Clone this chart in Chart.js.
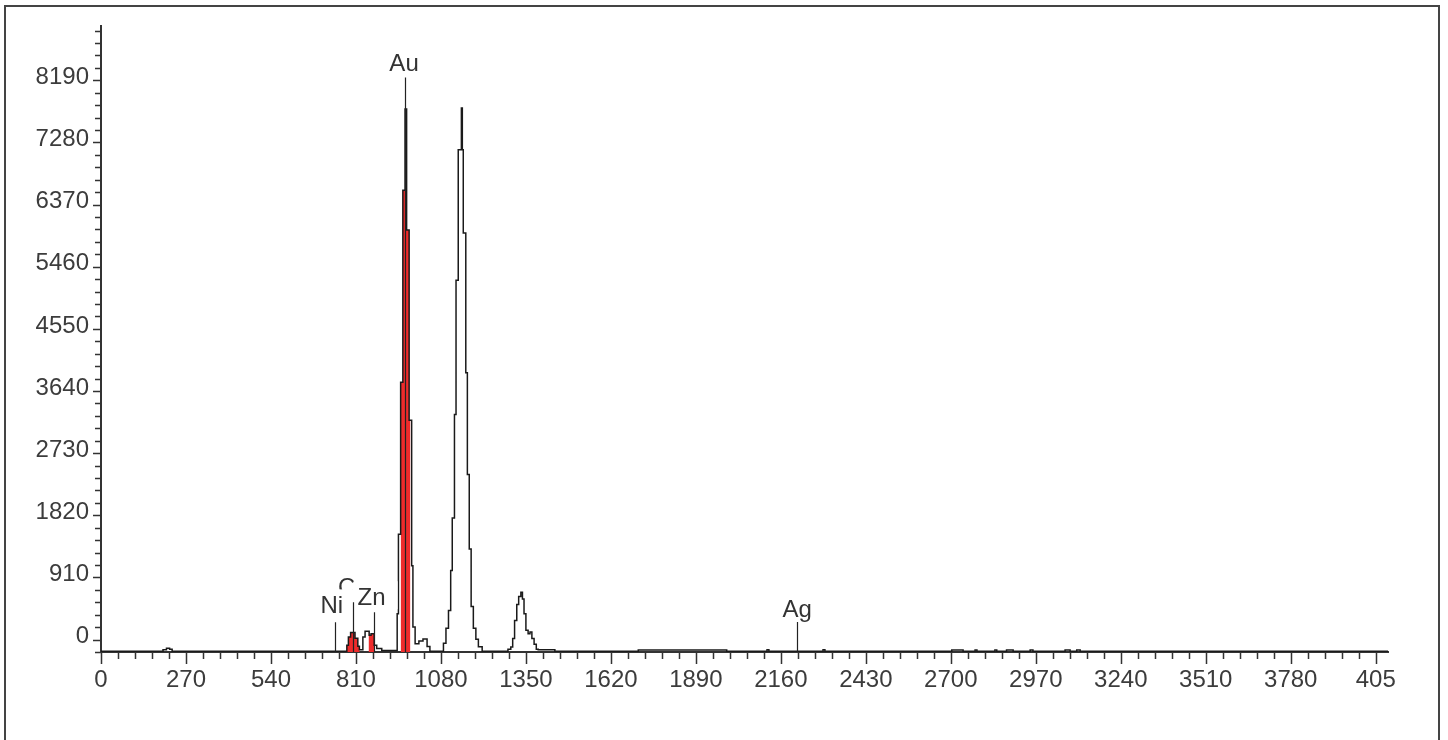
<!DOCTYPE html>
<html>
<head>
<meta charset="utf-8">
<script src="https://cdn.jsdelivr.net/npm/chart.js@4.4.1/dist/chart.umd.min.js"></script>
<style>
  body { margin: 0; background: #fff; }
  #wrap { position: relative; width: 1448px; height: 740px; overflow: hidden; }
  #frame { position: absolute; left: 4px; top: 5px; width: 1432px; height: 800px; border: 2px solid #444; border-bottom: none; }
  canvas { position: absolute; left: 0; top: 0; }
</style>
</head>
<body>
<div id="wrap">
  <div id="frame"></div>
  <canvas id="spectrum" width="1448" height="740"></canvas>
</div>
<script>
// spectrum: left edge of each step and its counts
const energy = [0, 197, 208, 218, 226,
  781, 786, 793, 807, 816, 821,
  832, 839, 852, 858, 868, 876, 892,
  941, 945, 952, 959, 966, 971, 979, 987, 991, 998, 1010, 1023, 1036, 1045,
  1088, 1096, 1104, 1111, 1116, 1123, 1128, 1135, 1145, 1148, 1151, 1159, 1164, 1170, 1176, 1183, 1191, 1199, 1211,
  1293, 1302, 1308, 1314, 1321, 1327, 1334, 1339, 1344, 1350, 1357, 1363, 1369, 1376, 1383, 1389, 1442,
  1707, 1988,
  2116, 2122, 2294, 2300,
  2703, 2739, 2777, 2783, 2840, 2846, 2877, 2898, 2952, 2961, 3063, 3079, 3100, 3111,
  4089];
const counts = [-170, -150, -126, -141, -170,
  -83, 38, 105, 19, -97, -150,
  38, 121, 63, 87, -83, -131, -160,
  378, 1541, 3770, 6581, 7769, 5999, 3213, 1080, 183, -60, -20, 10, -100, -170,
  -54, 164, 426, 1011, 1781, 3296, 5262, 7175, 7786, 7175, 5954, 3907, 2418, 1328, 485, 164, 4, -105, -170,
  -141, -108, 15, 281, 513, 630, 692, 596, 378, 135, 87, 111, 15, -68, -141, -150, -170,
  -152, -170,
  -150, -170, -150, -170,
  -152, -170, -152, -170, -152, -170, -152, -170, -152, -170, -152, -170, -152, -170,
  -170];

// red regions of interest
const roiStart = [780, 850, 952];
const roiEnd = [822, 868, 983];

// element markers
const markerName = ['Ni', 'Cu', 'Zn', 'Au', 'Ag'];
const markerEnergy = [743, 802, 866, 966, 2212];
const markerTop = [252, 547, 401, 8230, 256];

// axes
const xMin = 0, xMax = 4089, xStep = 54, xLabelStep = 270;
const yMin = -182, yMax = 8980, yStep = 182, yLabelStep = 910;

const FONT = '"Liberation Sans", Arial, sans-serif';

function valueAt(e) {
  let v = counts[0];
  for (let i = 0; i < energy.length; i++) {
    if (energy[i] <= e) v = counts[i];
  }
  return v;
}

const spectrum = energy.map((e, i) => ({x: e, y: counts[i]}));

const roiSets = roiStart.map((s, k) => {
  const e = roiEnd[k];
  const pts = [{x: s, y: valueAt(s)}];
  spectrum.forEach(p => { if (p.x > s && p.x < e) pts.push(p); });
  pts.push({x: e, y: valueAt(e)});
  return {
    data: pts,
    stepped: true,
    borderWidth: 0,
    pointRadius: 0,
    backgroundColor: '#ee2b2b',
    fill: {value: yMin},
    order: 2
  };
});

// ticks drawn by hand so major and minor ones get different lengths
const tickMarks = {
  id: 'tickMarks',
  afterDraw(chart) {
    const {ctx, scales: {x, y}} = chart;
    ctx.save();
    ctx.strokeStyle = '#333';
    ctx.lineWidth = 1.5;
    ctx.beginPath();
    x.ticks.forEach(t => {
      const px = Math.round(x.getPixelForValue(t.value)) + 0.5;
      const len = t.value % xLabelStep === 0 ? 12 : 7;
      ctx.moveTo(px, x.top);
      ctx.lineTo(px, x.top + len);
    });
    y.ticks.forEach(t => {
      const py = Math.round(y.getPixelForValue(t.value)) + 0.5;
      const len = (t.value >= 0 && t.value % yLabelStep === 0) ? 8 : 6;
      ctx.moveTo(y.right, py);
      ctx.lineTo(y.right - len, py);
    });
    ctx.stroke();
    ctx.restore();
  }
};

const labelDx = [-3, 0, -2, -1, 0];
const labelGap = [9, 7, 7, 7, 5];
const markers = {
  id: 'markers',
  afterDatasetsDraw(chart) {
    const {ctx, scales: {x, y}} = chart;
    ctx.save();
    ctx.font = '24px ' + FONT;
    ctx.textAlign = 'center';
    ctx.textBaseline = 'alphabetic';
    // Cu first, the others are painted over it with their white boxes
    [1, 0, 2, 3, 4].forEach(i => {
      const px = x.getPixelForValue(markerEnergy[i]) + labelDx[i];
      const base = y.getPixelForValue(markerTop[i]) - labelGap[i];
      const w = ctx.measureText(markerName[i]).width;
      ctx.fillStyle = '#fff';
      ctx.fillRect(px - w / 2 - 4, base - 24, w + 16, 28);
      ctx.fillStyle = '#333';
      ctx.fillText(markerName[i], px, base);
    });
    ctx.strokeStyle = '#222';
    ctx.lineWidth = 1.2;
    ctx.beginPath();
    markerName.forEach((n, i) => {
      const px = Math.round(x.getPixelForValue(markerEnergy[i])) + 0.5;
      ctx.moveTo(px, y.getPixelForValue(markerTop[i]));
      ctx.lineTo(px, y.bottom);
    });
    ctx.stroke();
    ctx.restore();
  }
};

new Chart(document.getElementById('spectrum'), {
  type: 'line',
  data: {
    datasets: [{
      data: spectrum,
      stepped: true,
      borderColor: '#1a1a1a',
      borderWidth: 1.5,
      pointRadius: 0,
      fill: false,
      order: 1
    }].concat(roiSets)
  },
  options: {
    responsive: false,
    animation: false,
    layout: {padding: {left: 0, top: 22, right: 60, bottom: 0}},
    plugins: {legend: {display: false}, tooltip: {enabled: false}},
    scales: {
      x: {
        type: 'linear',
        min: xMin,
        max: xMax,
        afterFit(scale) { scale.height = 88; },
        grid: {display: false, drawTicks: false},
        border: {display: true, color: '#333', width: 2},
        ticks: {
          stepSize: xStep,
          autoSkip: false,
          includeBounds: false,
          maxRotation: 0,
          padding: 14,
          color: '#3c3c3c',
          font: {family: FONT, size: 24},
          callback: v => v % xLabelStep === 0 ? (v === 4050 ? '405' : String(v)) : ''
        }
      },
      y: {
        type: 'linear',
        min: yMin,
        max: yMax,
        afterFit(scale) { scale.width = 101; },
        grid: {display: false, drawTicks: false},
        border: {display: true, color: '#333', width: 2},
        ticks: {
          stepSize: yStep,
          autoSkip: false,
          includeBounds: false,
          padding: 12,
          labelOffset: -3,
          color: '#3c3c3c',
          font: {family: FONT, size: 24},
          callback: v => (v >= 0 && v % yLabelStep === 0) ? String(v) : ''
        }
      }
    }
  },
  plugins: [tickMarks, markers]
});
</script>
</body>
</html>
